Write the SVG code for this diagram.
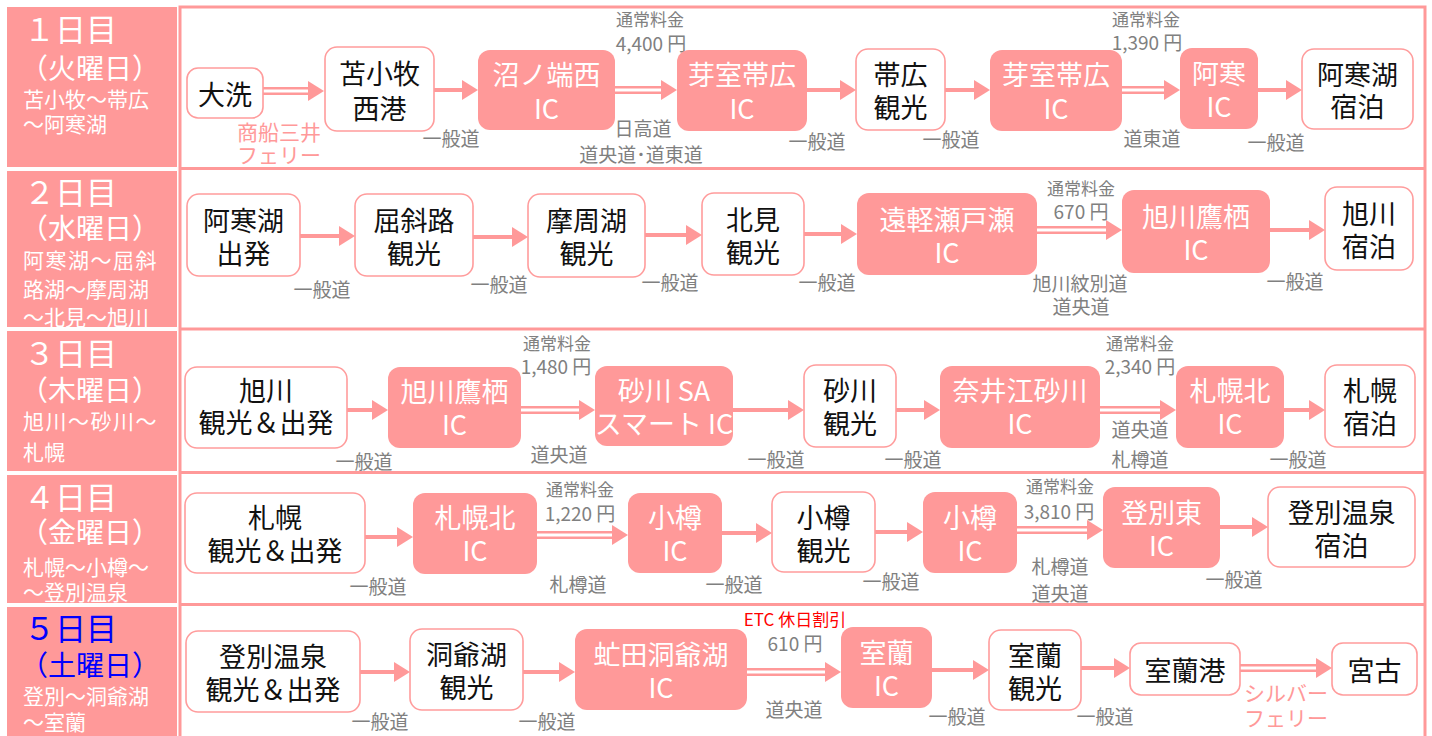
<svg xmlns="http://www.w3.org/2000/svg" width="1432" height="736" viewBox="0 0 1432 736">
<style>
text,tspan{font-family:"Noto Sans CJK JP","Noto Sans",sans-serif;dominant-baseline:central}
.cell{fill:#FF9999}
.panel{fill:#fff;stroke:#FF9999;stroke-width:3}
.sep{stroke:#FF9999;stroke-width:3}
.wn{fill:#fff;stroke:#FF9C9C;stroke-width:1.6}
.fn{fill:#FF9999}
.nt{font-size:27px;fill:#111;text-anchor:middle}
.ft{font-size:27px;fill:#fff;text-anchor:middle}
.lb{font-size:19px;fill:#808080;text-anchor:middle}
.fee{font-size:17px;fill:#808080;text-anchor:middle}
.pr{font-size:19px}
.pk{font-size:21px;fill:#FF9999;text-anchor:middle}
.red{font-size:17px;fill:#FF0000}
.day{font-size:31px;fill:#fff}
.wk{font-size:28px;fill:#fff;text-anchor:middle}
.sub{font-size:21px;fill:#fff}
.blue{fill:#0000FF}
.s{stroke:#FF9999;stroke-width:4;fill:none;marker-end:url(#ah)}
.d{stroke:#FF9999;stroke-width:8;fill:none;marker-end:url(#ah)}
.dw{stroke:#fff;stroke-width:3;fill:none}
</style>
<defs>
<marker id="ah" markerUnits="userSpaceOnUse" markerWidth="16" markerHeight="20" refX="0" refY="10" orient="auto"><path d="M0,0 L16,10 L0,20 z" fill="#FF9999"/></marker>
</defs>
<rect width="1432" height="736" fill="#fff"/>
<g id="days">
<rect class="cell" x="7" y="7" width="170" height="160"/>
<rect class="cell" x="7" y="171" width="170" height="156"/>
<rect class="cell" x="7" y="331" width="170" height="140"/>
<rect class="cell" x="7" y="475" width="170" height="128"/>
<rect class="cell" x="7" y="607" width="170" height="135"/>
<text class="day" x="24" y="27">１日目</text>
<text class="wk" x="90" y="67">（火曜日）</text>
<text class="sub"><tspan x="23" y="98">苫小牧～帯広</tspan><tspan x="23" y="123">～阿寒湖</tspan></text>
<text class="day" x="24" y="190">２日目</text>
<text class="wk" x="90" y="227">（水曜日）</text>
<text class="sub"><tspan x="23" y="259" letter-spacing="1.5">阿寒湖～屈斜</tspan><tspan x="23" y="288">路湖～摩周湖</tspan><tspan x="23" y="316">～北見～旭川</tspan></text>
<text class="day" x="24" y="351">３日目</text>
<text class="wk" x="90" y="389">（木曜日）</text>
<text class="sub"><tspan x="23" y="420" letter-spacing="1.5">旭川～砂川～</tspan><tspan x="23" y="451">札幌</tspan></text>
<text class="day" x="24" y="495">４日目</text>
<text class="wk" x="90" y="531">（金曜日）</text>
<text class="sub"><tspan x="23" y="566">札幌～小樽～</tspan><tspan x="23" y="591">～登別温泉</tspan></text>
<text class="day blue" x="24" y="626">５日目</text>
<text class="wk blue" x="90" y="664">（土曜日）</text>
<text class="sub"><tspan x="23" y="695">登別～洞爺湖</tspan><tspan x="23" y="721">～室蘭</tspan></text>
</g>
<g id="panel">
<rect class="panel" x="180" y="7" width="1245" height="740"/>
<line class="sep" x1="180" y1="168.5" x2="1425" y2="168.5"/>
<line class="sep" x1="180" y1="329" x2="1425" y2="329"/>
<line class="sep" x1="180" y1="472.5" x2="1425" y2="472.5"/>
<line class="sep" x1="180" y1="604.5" x2="1425" y2="604.5"/>
</g>
<g id="connectors">
<line class="d" x1="263" y1="91" x2="308" y2="91"/><line class="dw" x1="263" y1="91" x2="308" y2="91"/>
<line class="s" x1="434" y1="90" x2="462" y2="90"/>
<line class="d" x1="615" y1="90" x2="661" y2="90"/><line class="dw" x1="615" y1="90" x2="661" y2="90"/>
<line class="s" x1="807" y1="90" x2="840" y2="90"/>
<line class="s" x1="945" y1="90" x2="974" y2="90"/>
<line class="d" x1="1122" y1="90" x2="1164" y2="90"/><line class="dw" x1="1122" y1="90" x2="1164" y2="90"/>
<line class="s" x1="1258" y1="90" x2="1286" y2="90"/>
<line class="s" x1="300" y1="236" x2="339" y2="236"/>
<line class="s" x1="473" y1="237" x2="512" y2="237"/>
<line class="s" x1="645" y1="235" x2="686" y2="235"/>
<line class="s" x1="804" y1="234" x2="841" y2="234"/>
<line class="d" x1="1037" y1="230" x2="1106" y2="230"/><line class="dw" x1="1037" y1="230" x2="1106" y2="230"/>
<line class="s" x1="1270" y1="230" x2="1309" y2="230"/>
<line class="s" x1="347" y1="410" x2="372" y2="410"/>
<line class="d" x1="521" y1="410" x2="579" y2="410"/><line class="dw" x1="521" y1="410" x2="579" y2="410"/>
<line class="s" x1="733" y1="410" x2="788" y2="410"/>
<line class="s" x1="896" y1="410" x2="924" y2="410"/>
<line class="d" x1="1100" y1="410" x2="1160" y2="410"/><line class="dw" x1="1100" y1="410" x2="1160" y2="410"/>
<line class="s" x1="1284" y1="410" x2="1309" y2="410"/>
<line class="s" x1="365" y1="537" x2="397" y2="537"/>
<line class="d" x1="537" y1="535" x2="612" y2="535"/><line class="dw" x1="537" y1="535" x2="612" y2="535"/>
<line class="s" x1="722" y1="533" x2="756" y2="533"/>
<line class="s" x1="875" y1="532" x2="907" y2="532"/>
<line class="d" x1="1017" y1="530" x2="1087" y2="530"/><line class="dw" x1="1017" y1="530" x2="1087" y2="530"/>
<line class="s" x1="1220" y1="527" x2="1252" y2="527"/>
<line class="s" x1="360" y1="672" x2="394" y2="672"/>
<line class="s" x1="523" y1="672" x2="559" y2="672"/>
<line class="d" x1="747" y1="672" x2="825" y2="672"/><line class="dw" x1="747" y1="672" x2="825" y2="672"/>
<line class="s" x1="932" y1="670" x2="973" y2="670"/>
<line class="s" x1="1081" y1="668" x2="1114" y2="668"/>
<line class="d" x1="1240" y1="668" x2="1316" y2="668"/><line class="dw" x1="1240" y1="668" x2="1316" y2="668"/>
</g>
<g id="labels">
<text class="pk"><tspan x="279" y="131">商船三井</tspan><tspan x="279" y="154">フェリー</tspan></text>
<text class="lb" x="451" y="137">一般道</text>
<text class="fee"><tspan x="650" y="18">通常料金</tspan><tspan class="pr" x="651" y="42">4,400 円</tspan></text>
<text class="lb"><tspan x="643" y="127">日高道</tspan><tspan x="641" y="153">道央道･道東道</tspan></text>
<text class="lb" x="817" y="140">一般道</text>
<text class="lb" x="951" y="138">一般道</text>
<text class="fee"><tspan x="1146" y="18">通常料金</tspan><tspan class="pr" x="1147" y="41">1,390 円</tspan></text>
<text class="lb" x="1152" y="137">道東道</text>
<text class="lb" x="1276" y="141">一般道</text>
<text class="lb" x="322" y="288">一般道</text>
<text class="lb" x="499" y="283">一般道</text>
<text class="lb" x="670" y="281">一般道</text>
<text class="lb" x="827" y="281">一般道</text>
<text class="fee"><tspan x="1081" y="187">通常料金</tspan><tspan class="pr" x="1081" y="210">670 円</tspan></text>
<text class="lb"><tspan x="1080" y="282">旭川紋別道</tspan><tspan x="1081" y="305">道央道</tspan></text>
<text class="lb" x="1295" y="280">一般道</text>
<text class="lb" x="364" y="460">一般道</text>
<text class="fee"><tspan x="557" y="342">通常料金</tspan><tspan class="pr" x="556" y="365">1,480 円</tspan></text>
<text class="lb" x="559" y="453">道央道</text>
<text class="lb" x="776" y="458">一般道</text>
<text class="lb" x="913" y="458">一般道</text>
<text class="fee"><tspan x="1140" y="342">通常料金</tspan><tspan class="pr" x="1140" y="365">2,340 円</tspan></text>
<text class="lb"><tspan x="1140" y="428">道央道</tspan><tspan x="1140" y="458">札樽道</tspan></text>
<text class="lb" x="1298" y="458">一般道</text>
<text class="lb" x="378" y="585">一般道</text>
<text class="fee"><tspan x="580" y="488">通常料金</tspan><tspan class="pr" x="580" y="512">1,220 円</tspan></text>
<text class="lb" x="578" y="583">札樽道</text>
<text class="lb" x="734" y="583">一般道</text>
<text class="lb" x="891" y="580">一般道</text>
<text class="fee"><tspan x="1060" y="485">通常料金</tspan><tspan class="pr" x="1059" y="510">3,810 円</tspan></text>
<text class="lb"><tspan x="1060" y="565">札樽道</tspan><tspan x="1060" y="592">道央道</tspan></text>
<text class="lb" x="1234" y="578">一般道</text>
<text class="lb" x="380" y="720">一般道</text>
<text class="lb" x="547" y="720">一般道</text>
<text class="fee"><tspan class="red" x="795" y="618">ETC 休日割引</tspan><tspan class="pr" x="795" y="642">610 円</tspan></text>
<text class="lb" x="794" y="708">道央道</text>
<text class="lb" x="957" y="715">一般道</text>
<text class="lb" x="1105" y="715">一般道</text>
<text class="pk"><tspan x="1286" y="692">シルバー</tspan><tspan x="1286" y="717">フェリー</tspan></text>
</g>
<g id="n1-1"><rect class="wn" x="187" y="68" width="76" height="50" rx="11"/><text class="nt" x="225" y="93">大洗</text></g>
<g id="n1-2"><rect class="wn" x="325" y="47" width="109" height="84" rx="12"/><text class="nt"><tspan x="379.5" y="72">苫小牧</tspan><tspan x="379.5" y="107">西港</tspan></text></g>
<g id="n1-3"><rect class="fn" x="478" y="50" width="137" height="80" rx="12"/><text class="ft"><tspan x="546.5" y="73">沼ノ端西</tspan><tspan x="546.5" y="107">IC</tspan></text></g>
<g id="n1-4"><rect class="fn" x="677" y="50" width="130" height="81" rx="12"/><text class="ft"><tspan x="742" y="73">芽室帯広</tspan><tspan x="742" y="107">IC</tspan></text></g>
<g id="n1-5"><rect class="wn" x="856" y="49" width="89" height="81" rx="12"/><text class="nt"><tspan x="900.5" y="73">帯広</tspan><tspan x="900.5" y="106">観光</tspan></text></g>
<g id="n1-6"><rect class="fn" x="990" y="50" width="132" height="81" rx="12"/><text class="ft"><tspan x="1056" y="73">芽室帯広</tspan><tspan x="1056" y="107">IC</tspan></text></g>
<g id="n1-7"><rect class="fn" x="1180" y="48" width="78" height="81" rx="12"/><text class="ft"><tspan x="1219" y="72">阿寒</tspan><tspan x="1219" y="105">IC</tspan></text></g>
<g id="n1-8"><rect class="wn" x="1302" y="49" width="111" height="80" rx="12"/><text class="nt"><tspan x="1357.5" y="73">阿寒湖</tspan><tspan x="1357.5" y="105">宿泊</tspan></text></g>
<g id="n2-1"><rect class="wn" x="187" y="194" width="113" height="82" rx="12"/><text class="nt"><tspan x="243.5" y="219">阿寒湖</tspan><tspan x="243.5" y="252">出発</tspan></text></g>
<g id="n2-2"><rect class="wn" x="355" y="194" width="118" height="82" rx="12"/><text class="nt"><tspan x="414" y="219">屈斜路</tspan><tspan x="414" y="252">観光</tspan></text></g>
<g id="n2-3"><rect class="wn" x="528" y="194" width="117" height="83" rx="12"/><text class="nt"><tspan x="586.5" y="219">摩周湖</tspan><tspan x="586.5" y="252">観光</tspan></text></g>
<g id="n2-4"><rect class="wn" x="702" y="193" width="102" height="82" rx="12"/><text class="nt"><tspan x="753" y="218">北見</tspan><tspan x="753" y="251">観光</tspan></text></g>
<g id="n2-5"><rect class="fn" x="857" y="193" width="180" height="82" rx="12"/><text class="ft"><tspan x="947" y="218">遠軽瀬戸瀬</tspan><tspan x="947" y="251">IC</tspan></text></g>
<g id="n2-6"><rect class="fn" x="1122" y="190" width="148" height="83" rx="12"/><text class="ft"><tspan x="1196" y="215">旭川鷹栖</tspan><tspan x="1196" y="248">IC</tspan></text></g>
<g id="n2-7"><rect class="wn" x="1325" y="187" width="88" height="83" rx="12"/><text class="nt"><tspan x="1369" y="212">旭川</tspan><tspan x="1369" y="245">宿泊</tspan></text></g>
<g id="n3-1"><rect class="wn" x="185" y="367" width="162" height="81" rx="12"/><text class="nt"><tspan x="266" y="389">旭川</tspan><tspan x="266" y="421">観光＆出発</tspan></text></g>
<g id="n3-2"><rect class="fn" x="388" y="367" width="133" height="81" rx="12"/><text class="ft"><tspan x="454.5" y="390">旭川鷹栖</tspan><tspan x="454.5" y="423">IC</tspan></text></g>
<g id="n3-3"><rect class="fn" x="595" y="366" width="138" height="80" rx="12"/><text class="ft"><tspan x="664" y="389">砂川 SA</tspan><tspan x="664" y="422">スマート IC</tspan></text></g>
<g id="n3-4"><rect class="wn" x="804" y="365" width="92" height="82" rx="12"/><text class="nt"><tspan x="850" y="389">砂川</tspan><tspan x="850" y="422">観光</tspan></text></g>
<g id="n3-5"><rect class="fn" x="940" y="366" width="160" height="82" rx="12"/><text class="ft"><tspan x="1020" y="389">奈井江砂川</tspan><tspan x="1020" y="422">IC</tspan></text></g>
<g id="n3-6"><rect class="fn" x="1176" y="366" width="108" height="82" rx="12"/><text class="ft"><tspan x="1230" y="389">札幌北</tspan><tspan x="1230" y="422">IC</tspan></text></g>
<g id="n3-7"><rect class="wn" x="1325" y="365" width="90" height="82" rx="12"/><text class="nt"><tspan x="1370" y="389">札幌</tspan><tspan x="1370" y="422">宿泊</tspan></text></g>
<g id="n4-1"><rect class="wn" x="185" y="493" width="180" height="80" rx="12"/><text class="nt"><tspan x="275" y="516">札幌</tspan><tspan x="275" y="549">観光＆出発</tspan></text></g>
<g id="n4-2"><rect class="fn" x="413" y="493" width="124" height="81" rx="12"/><text class="ft"><tspan x="475" y="516">札幌北</tspan><tspan x="475" y="549">IC</tspan></text></g>
<g id="n4-3"><rect class="fn" x="628" y="493" width="94" height="80" rx="12"/><text class="ft"><tspan x="675" y="516">小樽</tspan><tspan x="675" y="549">IC</tspan></text></g>
<g id="n4-4"><rect class="wn" x="772" y="492" width="103" height="80" rx="12"/><text class="nt"><tspan x="823.5" y="516">小樽</tspan><tspan x="823.5" y="549">観光</tspan></text></g>
<g id="n4-5"><rect class="fn" x="923" y="492" width="94" height="81" rx="12"/><text class="ft"><tspan x="970" y="516">小樽</tspan><tspan x="970" y="549">IC</tspan></text></g>
<g id="n4-6"><rect class="fn" x="1103" y="487" width="117" height="81" rx="12"/><text class="ft"><tspan x="1161.5" y="511">登別東</tspan><tspan x="1161.5" y="544">IC</tspan></text></g>
<g id="n4-7"><rect class="wn" x="1268" y="487" width="147" height="80" rx="12"/><text class="nt"><tspan x="1341.5" y="511">登別温泉</tspan><tspan x="1341.5" y="544">宿泊</tspan></text></g>
<g id="n5-1"><rect class="wn" x="186" y="631" width="174" height="81" rx="12"/><text class="nt"><tspan x="273" y="655">登別温泉</tspan><tspan x="273" y="688">観光＆出発</tspan></text></g>
<g id="n5-2"><rect class="wn" x="410" y="629" width="113" height="81" rx="12"/><text class="nt"><tspan x="466.5" y="653">洞爺湖</tspan><tspan x="466.5" y="686">観光</tspan></text></g>
<g id="n5-3"><rect class="fn" x="575" y="629" width="172" height="81" rx="12"/><text class="ft"><tspan x="661" y="653">虻田洞爺湖</tspan><tspan x="661" y="686">IC</tspan></text></g>
<g id="n5-4"><rect class="fn" x="841" y="627" width="91" height="81" rx="12"/><text class="ft"><tspan x="886.5" y="651">室蘭</tspan><tspan x="886.5" y="684">IC</tspan></text></g>
<g id="n5-5"><rect class="wn" x="989" y="630" width="92" height="80" rx="12"/><text class="nt"><tspan x="1035" y="654">室蘭</tspan><tspan x="1035" y="687">観光</tspan></text></g>
<g id="n5-6"><rect class="wn" x="1130" y="643" width="110" height="52" rx="11"/><text class="nt" x="1185" y="669">室蘭港</text></g>
<g id="n5-7"><rect class="wn" x="1332" y="643" width="85" height="52" rx="11"/><text class="nt" x="1374.5" y="669">宮古</text></g>
</svg>
